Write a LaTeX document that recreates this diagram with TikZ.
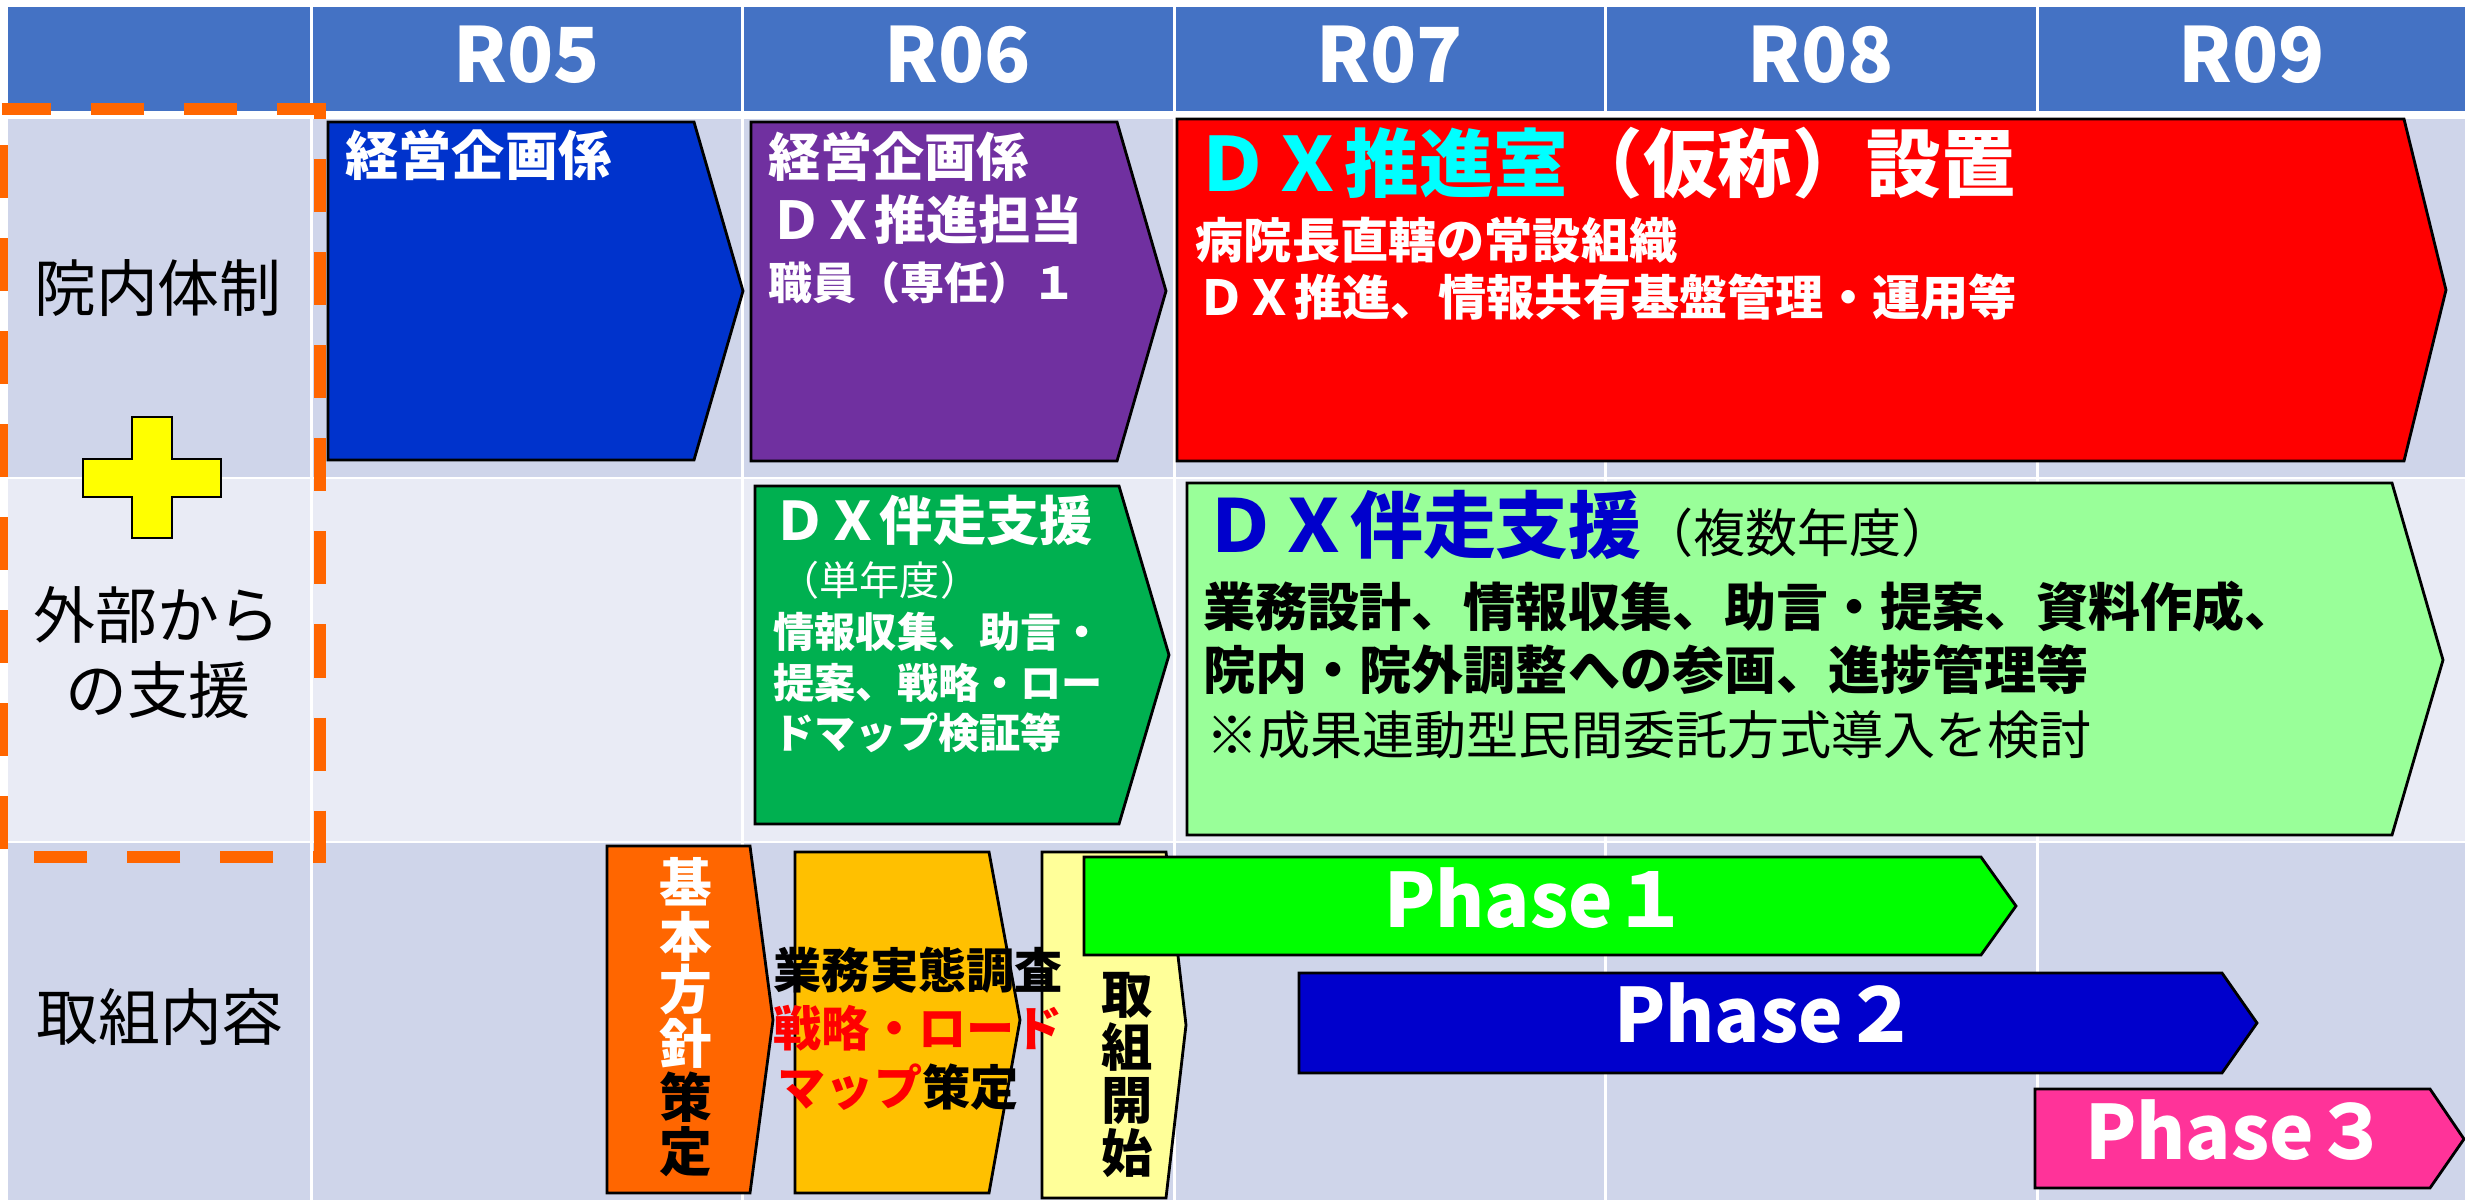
\documentclass[tikz,border=0pt]{standalone}
\usepackage{fontspec}
\setmainfont{Noto Sans CJK JP}
\definecolor{hdr}{HTML}{4472C4}
\definecolor{rowA}{HTML}{CFD5EA}
\definecolor{rowB}{HTML}{E9EBF5}
\definecolor{dashor}{HTML}{FF6600}
\definecolor{cBlue}{HTML}{0033CC}
\definecolor{cPurple}{HTML}{7030A0}
\definecolor{cRed}{HTML}{FF0000}
\definecolor{cGreen}{HTML}{00B050}
\definecolor{cLGreen}{HTML}{99FF99}
\definecolor{cOrange}{HTML}{FF6600}
\definecolor{cGold}{HTML}{FFC000}
\definecolor{cLYellow}{HTML}{FFFF99}
\definecolor{cPh1}{HTML}{00FF00}
\definecolor{cPh2}{HTML}{0000CC}
\definecolor{cPh3}{HTML}{FF3399}
\definecolor{cTitleBlue}{HTML}{0000CC}
\definecolor{cCyan}{HTML}{00FFFF}
\definecolor{cTxtRed}{HTML}{FF0000}
\definecolor{cPlus}{HTML}{FFFF00}
\begin{document}
\begin{tikzpicture}[x=0.01cm,y=-0.01cm,
  txt/.style={inner sep=0pt, anchor=west},
  ctxt/.style={inner sep=0pt, anchor=center},
  shapebox/.style={draw=black, line width=0.8pt, line join=miter},
  hdrtxt/.style={ctxt, text=white, font=\bfseries\fontsize{21.6pt}{21.6pt}\selectfont},
  rowtxt/.style={ctxt, text=black, font=\fontsize{17.6pt}{17.6pt}\selectfont},
  phasetxt/.style={ctxt, text=white, font=\bfseries\fontsize{21.3pt}{21.3pt}\selectfont}]
\useasboundingbox (0,0) rectangle (2465,1200);
\fill[white] (0,0) rectangle (2465,1200);
% table
\fill[hdr] (8,7) rectangle (2465,111);
\fill[rowA] (8,119) rectangle (2465,477);
\fill[rowB] (8,479) rectangle (2465,841);
\fill[rowA] (8,843) rectangle (2465,1200);
\foreach \x in {311,742,1174,1605,2037}
  \draw[white, line width=0.03cm] (\x,7) -- (\x,1200);
% header texts
\node[hdrtxt] (h5) at (527,55) {R05};
\node[hdrtxt] (h6) at (958,55) {R06};
\node[hdrtxt] (h7) at (1390,55) {R07};
\node[hdrtxt] (h8) at (1821,55) {R08};
\node[hdrtxt] (h9) at (2252,55) {R09};
% row labels
\node[rowtxt] (r1) at (158,288) {院内体制};
\node[rowtxt] (r2a) at (157,615) {外部から};
\node[rowtxt] (r2b) at (158,690) {の支援};
\node[rowtxt] (r3) at (160,1017) {取組内容};
% plus
\draw[black, line width=0.6pt, fill=cPlus] (132,417) -- (172,417) -- (172,459) -- (221,459) -- (221,497) -- (172,497) -- (172,538) -- (132,538) -- (132,497) -- (83,497) -- (83,459) -- (132,459) -- cycle;
% shapes row 1
\draw[shapebox, fill=cBlue] (328,122) -- (694,122) -- (743,291) -- (694,460) -- (328,460) -- cycle;
\draw[shapebox, fill=cPurple] (751,122) -- (1117,122) -- (1166,291) -- (1117,461) -- (751,461) -- cycle;
\draw[shapebox, fill=cRed] (1177,119) -- (2404,119) -- (2446,290) -- (2404,461) -- (1177,461) -- cycle;
% row 2
\draw[shapebox, fill=cGreen] (755,486) -- (1119,486) -- (1169,655) -- (1119,824) -- (755,824) -- cycle;
\draw[shapebox, fill=cLGreen] (1187,483) -- (2392,483) -- (2443,660) -- (2392,835) -- (1187,835) -- cycle;
% row 3
\draw[shapebox, fill=cOrange] (607,846) -- (750,846) -- (773,1020) -- (750,1193) -- (607,1193) -- cycle;
\draw[shapebox, fill=cGold] (795,852) -- (989,852) -- (1020,1020) -- (989,1193) -- (795,1193) -- cycle;
\draw[shapebox, fill=cLYellow] (1042,852) -- (1166,852) -- (1186,1025) -- (1166,1198) -- (1042,1198) -- cycle;
\draw[shapebox, fill=cPh1] (1084,857) -- (1981,857) -- (2016,906) -- (1981,955) -- (1084,955) -- cycle;
\draw[shapebox, fill=cPh2] (1299,973) -- (2222,973) -- (2257,1023) -- (2222,1073) -- (1299,1073) -- cycle;
\draw[shapebox, fill=cPh3] (2035,1089) -- (2430,1089) -- (2464,1139) -- (2430,1188) -- (2035,1188) -- cycle;
% texts row 1
\node[txt, text=white, font=\bfseries\fontsize{15.1pt}{15.1pt}\selectfont] (t1) at (345,155) {経営企画係};
\node[txt, text=white, font=\bfseries\fontsize{14.8pt}{14.8pt}\selectfont] (t2a) at (768,157) {経営企画係};
\node[txt, text=white, font=\bfseries\fontsize{14.8pt}{14.8pt}\selectfont] (t2b) at (770,220) {ＤＸ推進担当};
\node[txt, text=white, font=\bfseries\fontsize{12.5pt}{12.5pt}\selectfont] (t2c) at (768,283) {職員（専任）１};
\node[txt, text=white, font=\bfseries\fontsize{21.2pt}{21.2pt}\selectfont] (t3a) at (1195,163) {{\color{cCyan}ＤＸ推進室}（仮称）設置};
\node[txt, text=white, font=\bfseries\fontsize{13.7pt}{13.7pt}\selectfont] (t3b) at (1195,240) {病院長直轄の常設組織};
\node[txt, text=white, font=\bfseries\fontsize{13.7pt}{13.7pt}\selectfont] (t3c) at (1197,297) {ＤＸ推進、情報共有基盤管理・運用等};
% texts row 2
\node[txt, text=white, font=\bfseries\fontsize{15.1pt}{15.1pt}\selectfont] (t4a) at (773,520) {ＤＸ伴走支援};
\node[txt, text=white, font=\fontsize{11.4pt}{11.4pt}\selectfont] (t4b) at (779,580) {（単年度）};
\node[txt, text=white, font=\bfseries\fontsize{11.7pt}{11.7pt}\selectfont] (t4c) at (773,632) {情報収集、助言・};
\node[txt, text=white, font=\bfseries\fontsize{11.7pt}{11.7pt}\selectfont] (t4d) at (773,683) {提案、戦略・ロー};
\node[txt, text=white, font=\bfseries\fontsize{11.7pt}{11.7pt}\selectfont] (t4e) at (773,733) {ドマップ検証等};
\node[txt, anchor=base west, inner sep=0pt] (t5a) at (1204,552) {{\color{cTitleBlue}\bfseries\fontsize{20.7pt}{20.7pt}\selectfont ＤＸ伴走支援}{\fontsize{14.8pt}{14.8pt}\selectfont（複数年度）}};
\node[txt, text=black, font=\bfseries\fontsize{14.8pt}{14.8pt}\selectfont] (t5b) at (1203,607) {業務設計、情報収集、助言・提案、資料作成、};
\node[txt, text=black, font=\bfseries\fontsize{14.8pt}{14.8pt}\selectfont] (t5c) at (1203,670) {院内・院外調整への参画、進捗管理等};
\node[txt, text=black, font=\fontsize{14.8pt}{14.8pt}\selectfont] (t5d) at (1206,735) {※成果連動型民間委託方式導入を検討};
% texts row 3
\node[ctxt, text=white, align=center, font=\bfseries\fontsize{15.0pt}{15.3pt}\selectfont] (t6) at (686,1017) {基\\本\\方\\針\\{\color{black}策}\\{\color{black}定}};
\node[txt, text=black, font=\bfseries\fontsize{13.7pt}{13.7pt}\selectfont] (t7a) at (773,970) {業務実態調査};
\node[txt, text=cTxtRed, font=\bfseries\fontsize{13.7pt}{13.7pt}\selectfont] (t7b) at (773,1028) {戦略・ロード};
\node[txt, text=black, font=\bfseries\fontsize{13.7pt}{13.7pt}\selectfont] (t7c) at (777,1087) {{\color{cTxtRed}マップ}策定};
\node[ctxt, text=black, align=center, font=\bfseries\fontsize{14.6pt}{15.1pt}\selectfont] (t8) at (1127,1075) {取\\組\\開\\始};
\node[phasetxt] (p1) at (1536,898) {Phase１};
\node[phasetxt] (p2) at (1766,1013) {Phase２};
\node[phasetxt] (p3) at (2237,1130) {Phase３};
% orange dashed frame
\draw[dashor, line width=0.12cm, dash pattern=on 0.53cm off 0.40cm, dash phase=0.04cm] (2,109) -- (320,109) -- (320,857) -- (2,857) -- cycle;
\end{tikzpicture}
\end{document}
